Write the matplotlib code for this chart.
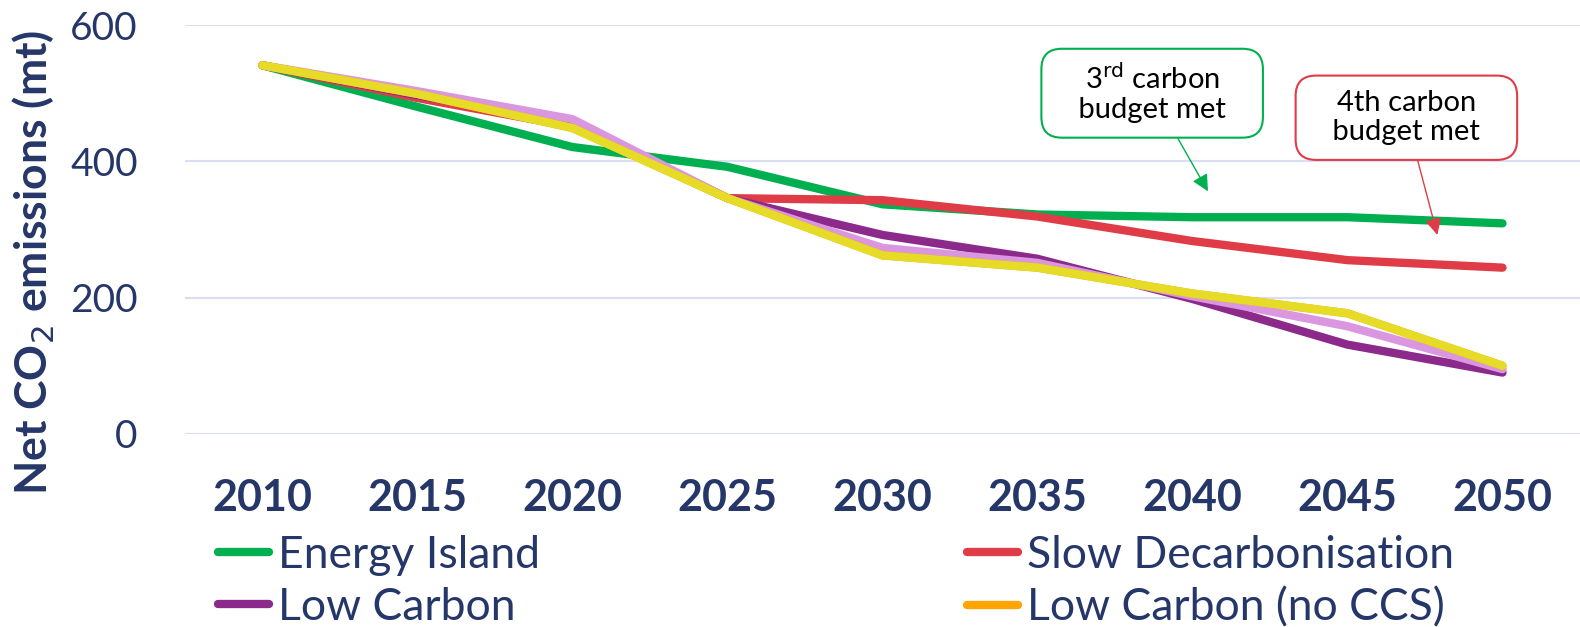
import matplotlib
matplotlib.use("Agg")
from matplotlib import pyplot as plt
from matplotlib.lines import Line2D

plt.rcParams['font.family'] = ['Lato', 'DejaVu Sans']

NAVY = "#253668"
GRID = "#D9DEF3"

years = [2010, 2015, 2020, 2025, 2030, 2035, 2040, 2045, 2050]
energy_island = [541, 480, 421, 392, 337, 322, 318, 318, 309]
slow_decarb = [541, 493, 451, 346, 343, 319, 283, 255, 244]
low_carbon = [541, 497, 458, 346, 292, 257, 198, 131, 90]
low_carbon_pink = [541, 503, 462, 346, 273, 251, 202, 158, 95]
low_carbon_no_ccs = [541, 499, 449, 346, 262, 244, 206, 177, 100]
low_carbon_yellow = [541, 499, 449, 346, 262, 244, 206, 177, 100]

y_ticks = [0, 200, 400, 600]

fig = plt.figure(figsize=(15.8, 6.27), dpi=100)
ax = fig.add_axes([0.117, 0.308, 0.883, 0.652])

series = [
    (energy_island, "#00B050", "Energy Island"),
    (slow_decarb, "#E03C48", "Slow Decarbonisation"),
    (low_carbon, "#8B2A8B", "Low Carbon"),
    (low_carbon_pink, "#DA96DE", None),
    (low_carbon_no_ccs, "#FFA500", "Low Carbon (no CCS)"),
    (low_carbon_yellow, "#E6DC28", None),
]
for vals, col, name in series:
    ax.plot(years, vals, color=col, lw=6, solid_capstyle='round', solid_joinstyle='round')

ax.set_xlim(2007.5, 2052.5)
ax.set_ylim(0, 600)
ax.set_yticks(y_ticks)
ax.set_xticks(years)
ax.set_xticklabels([str(y) for y in years], fontsize=31, fontweight='bold', color=NAVY)
ax.tick_params(axis='y', labelsize=28, labelcolor=NAVY, length=0, pad=34)
ax.tick_params(axis='x', length=0, pad=32)
ax.grid(True, axis='y', color=GRID, lw=1.5)
ax.set_axisbelow(True)
for s in ax.spines.values():
    s.set_visible(False)
ax.set_ylabel("Net CO$_2$ emissions (mt)", fontsize=32, fontweight='bold', color=NAVY)
ax.yaxis.set_label_coords(-0.092, 0.42)

# annotations (extra spaces widen the boxes like the original callouts)
box = dict(boxstyle='round,pad=0.5,rounding_size=0.7', fc='white', lw=1.5)
ax.annotate("3$^{\\rm rd}$ carbon\n   budget met   ", xy=(2040.5, 356), xytext=(2038.7, 500),
            ha='center', va='center', fontsize=21, color='black', linespacing=1.15,
            bbox=dict(box, ec='#00B050'),
            arrowprops=dict(arrowstyle='-|>', color='#00B050', lw=1, mutation_scale=25, shrinkA=0, shrinkB=0))
ax.annotate("4th carbon\n   budget met   ", xy=(2047.9, 292), xytext=(2046.9, 464),
            ha='center', va='center', fontsize=21, color='black', linespacing=1.15,
            bbox=dict(box, ec='#E03C48'),
            arrowprops=dict(arrowstyle='-|>', color='#E03C48', lw=1, mutation_scale=25, shrinkA=0, shrinkB=0))

# legend order: column-major so rows read Energy Island / Slow Decarb, Low Carbon / no CCS
order = [0, 2, 1, 4]
handles = [Line2D([], [], color=series[i][1], lw=6, solid_capstyle='round') for i in order]
labels = [series[i][2] for i in order]
fig.legend(handles, labels, loc='upper left', bbox_to_anchor=(0.138, 0.147), ncol=2,
           frameon=False, fontsize=32, labelcolor=NAVY, handlelength=1.15, handletextpad=0.2,
           columnspacing=9.6, labelspacing=0.25, borderpad=0, borderaxespad=0)

fig.savefig("out.png", dpi=100)
